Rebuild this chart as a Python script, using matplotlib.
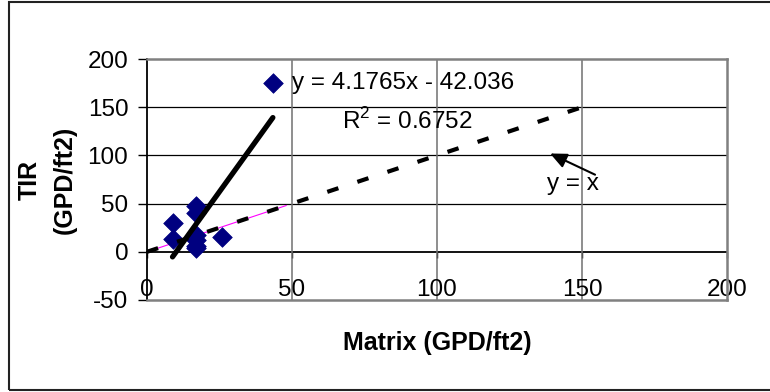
import matplotlib
matplotlib.use("Agg")
import matplotlib.pyplot as plt
from matplotlib.patches import Rectangle

# Matrix vs TIR seepage flux (GPD/ft2)
matrix_x = [8.8, 8.8, 17, 17, 17, 17, 17, 17, 26, 43.4]
tir_y = [30, 13.5, 48, 40, 17.6, 12.4, 6, 4, 15, 175]

# linear fit reported on the chart
slope = 4.1765
intercept = -42.036
r_squared = 0.6752

# 1:1 reference line
one_to_one = [0, 150]
one_to_one_short = [0, 48]

x_ticks = [0, 50, 100, 150, 200]
y_ticks = [-50, 0, 50, 100, 150, 200]


def main():
    plt.rcParams["font.family"] = ["Liberation Sans", "DejaVu Sans"]
    plt.rcParams["mathtext.fontset"] = "custom"
    plt.rcParams["mathtext.rm"] = "Liberation Sans"
    plt.rcParams["axes.unicode_minus"] = False
    fs = 17.5

    fig = plt.figure(figsize=(7.7, 3.92), dpi=100)
    ax = fig.add_axes([147 / 770, 1 - 300 / 392, 580 / 770, 241 / 392])

    # outer chart border
    fig.patches.append(
        Rectangle((9 / 770, 2 / 392), 1.0, 388 / 392, transform=fig.transFigure,
                  fill=False, edgecolor="#222222", linewidth=1.5, zorder=0)
    )

    ax.set_xlim(0, 200)
    ax.set_ylim(-50, 200)

    # gridlines
    for yv in [50, 100, 150]:
        ax.axhline(yv, color="black", linewidth=0.9, zorder=1)
    for xv in [50, 100, 150]:
        ax.axvline(xv, color="#707070", linewidth=1.1, zorder=1)

    # frame
    for side in ["top", "right", "bottom"]:
        ax.spines[side].set_color("#808080")
        ax.spines[side].set_linewidth(1.8)
    ax.spines["left"].set_color("black")
    ax.spines["left"].set_linewidth(1.3)

    ax.set_yticks(y_ticks)
    ax.set_xticks(x_ticks)
    ax.tick_params(axis="y", direction="out", length=6.5, width=1, pad=7,
                   labelsize=fs)
    ax.tick_params(axis="x", length=0, pad=-15, labelsize=fs)

    # x axis line sits at y = 0
    sec = ax.secondary_xaxis(0, transform=ax.transData)
    sec.set_xticks(x_ticks)
    sec.spines["bottom"].set_color("black")
    sec.spines["bottom"].set_linewidth(1.3)
    sec.tick_params(direction="out", length=4.5, width=1, labelbottom=False)

    # data
    ax.scatter(matrix_x, tir_y, marker="D", s=100, color="#000080",
               edgecolors="#000080", linewidths=0.5, zorder=3)

    # 1:1 lines
    ax.plot(one_to_one_short, one_to_one_short, color="#ff00ff",
            linewidth=0.8, zorder=2)
    ax.plot(one_to_one, one_to_one, color="black", linewidth=3,
            dashes=(2.8, 4.8), dash_capstyle="butt", zorder=4)

    # trendline over the data range
    x0, x1 = min(matrix_x), max(matrix_x)
    ax.plot([x0, x1], [slope * x0 + intercept, slope * x1 + intercept],
            color="black", linewidth=3.8, solid_capstyle="round", zorder=4)

    ax.text(49.9, 168.5, f"y = {slope}x - {abs(intercept)}", fontsize=fs,
            va="baseline", ha="left", zorder=5)
    ax.text(67.1, 127, r"R$^\mathrm{2}$ = " + f"{r_squared}", fontsize=fs,
            va="baseline", ha="left", zorder=5)

    ax.annotate("", xy=(139, 102), xytext=(154.5, 80),
                arrowprops=dict(arrowstyle="-|>,head_length=1.0,head_width=0.45",
                                color="black", linewidth=1.5,
                                shrinkA=0, shrinkB=0), zorder=5)
    ax.text(137.8, 64, "y = x", fontsize=fs, va="baseline", ha="left", zorder=5)

    ax.set_xlabel("Matrix (GPD/ft2)", fontsize=fs + 0.5, fontweight="bold",
                  va="center")
    ax.xaxis.set_label_coords(0.5, -0.178)
    ax.set_ylabel("TIR\n(GPD/ft2)", fontsize=fs + 0.5, fontweight="bold",
                  linespacing=1.6, va="center")
    ax.yaxis.set_label_coords(-0.172, 0.5)

    plt.savefig("out.png", dpi=100)
    plt.close()


if __name__ == "__main__":
    main()
